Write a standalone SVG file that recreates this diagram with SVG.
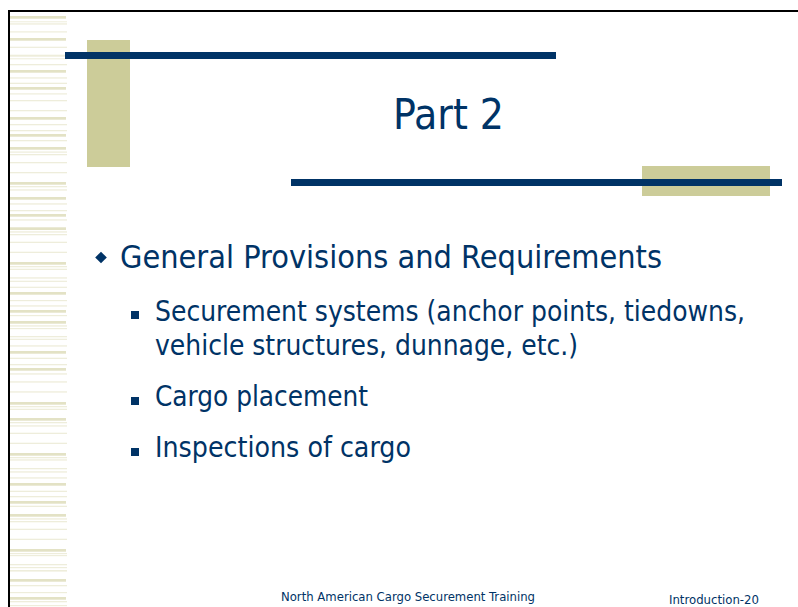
<svg xmlns="http://www.w3.org/2000/svg" width="798" height="607" viewBox="0 0 798 607">
<style>
.tk{fill:#e3e2c5}
.tn{fill:#eeeddb}
.tan{fill:#cccc99}
.bar{fill:#003366}
.t{font-family:"DejaVu Sans Condensed","DejaVu Sans",sans-serif;fill:#003366}
</style>
<rect x="0" y="0" width="798" height="607" fill="#ffffff"/>
<g id="stripes">
<rect class="tk" x="10" y="16" width="56" height="2.7"/>
<rect class="tk" x="10" y="38" width="56" height="2.7"/>
<rect class="tk" x="10" y="70" width="56" height="2.7"/>
<rect class="tk" x="10" y="87" width="56" height="2.7"/>
<rect class="tk" x="10" y="117" width="56" height="2.7"/>
<rect class="tk" x="10" y="134" width="56" height="2.7"/>
<rect class="tk" x="10" y="147" width="56" height="2.7"/>
<rect class="tk" x="10" y="182" width="56" height="2.7"/>
<rect class="tk" x="10" y="197" width="56" height="2.7"/>
<rect class="tk" x="10" y="214" width="56" height="2.7"/>
<rect class="tk" x="10" y="227.3" width="56" height="2.7"/>
<rect class="tk" x="10" y="262" width="56" height="2.7"/>
<rect class="tk" x="10" y="292" width="56" height="2.7"/>
<rect class="tk" x="10" y="310" width="56" height="2.7"/>
<rect class="tk" x="10" y="321" width="56" height="2.7"/>
<rect class="tk" x="10" y="351" width="56" height="2.7"/>
<rect class="tk" x="10" y="368" width="56" height="2.7"/>
<rect class="tk" x="10" y="402" width="56" height="2.7"/>
<rect class="tk" x="10" y="418" width="56" height="2.7"/>
<rect class="tk" x="10" y="453" width="56" height="2.7"/>
<rect class="tk" x="10" y="483" width="56" height="2.7"/>
<rect class="tk" x="10" y="501" width="56" height="2.7"/>
<rect class="tk" x="10" y="514" width="56" height="2.7"/>
<rect class="tk" x="10" y="549" width="56" height="2.7"/>
<rect class="tk" x="10" y="579" width="56" height="2.7"/>
<rect class="tk" x="10" y="597" width="56" height="2.7"/>
<rect class="tn" x="10" y="21.3" width="57" height="1"/>
<rect class="tn" x="10" y="23.3" width="57" height="1.3"/>
<rect class="tn" x="10" y="31.3" width="57" height="1.2"/>
<rect class="tn" x="10" y="46.7" width="57" height="1.2"/>
<rect class="tn" x="10" y="54.7" width="57" height="2"/>
<rect class="tn" x="10" y="58.3" width="57" height="1"/>
<rect class="tn" x="10" y="64" width="57" height="1.3"/>
<rect class="tn" x="10" y="77.3" width="57" height="1.3"/>
<rect class="tn" x="10" y="82.7" width="57" height="1.3"/>
<rect class="tn" x="10" y="93.3" width="57" height="1.2"/>
<rect class="tn" x="10" y="100" width="57" height="1.3"/>
<rect class="tn" x="10" y="110" width="57" height="1.3"/>
<rect class="tn" x="10" y="124" width="57" height="1.3"/>
<rect class="tn" x="10" y="130" width="57" height="1.3"/>
<rect class="tn" x="10" y="140" width="57" height="1.3"/>
<rect class="tn" x="10" y="151.5" width="57" height="1.2"/>
<rect class="tn" x="10" y="154" width="57" height="1.3"/>
<rect class="tn" x="10" y="162" width="57" height="1.3"/>
<rect class="tn" x="10" y="172" width="57" height="1.3"/>
<rect class="tn" x="10" y="186" width="57" height="1.3"/>
<rect class="tn" x="10" y="189.3" width="57" height="1.3"/>
<rect class="tn" x="10" y="203.3" width="57" height="1.3"/>
<rect class="tn" x="10" y="210" width="57" height="1.3"/>
<rect class="tn" x="10" y="219.3" width="57" height="1.3"/>
<rect class="tn" x="10" y="231.3" width="57" height="1.3"/>
<rect class="tn" x="10" y="234" width="57" height="1.3"/>
<rect class="tn" x="10" y="241.7" width="57" height="1.3"/>
<rect class="tn" x="10" y="251.7" width="57" height="1.3"/>
<rect class="tn" x="10" y="266" width="57" height="1.3"/>
<rect class="tn" x="10" y="268.7" width="57" height="1.3"/>
<rect class="tn" x="10" y="277.3" width="57" height="1.3"/>
<rect class="tn" x="10" y="280.7" width="57" height="1.2"/>
<rect class="tn" x="10" y="286.7" width="57" height="1.2"/>
<rect class="tn" x="10" y="300" width="57" height="1.2"/>
<rect class="tn" x="10" y="305.3" width="57" height="1.3"/>
<rect class="tn" x="10" y="315" width="57" height="1.2"/>
<rect class="tn" x="10" y="325.3" width="57" height="1.3"/>
<rect class="tn" x="10" y="328" width="57" height="1.2"/>
<rect class="tn" x="10" y="336" width="57" height="1.3"/>
<rect class="tn" x="10" y="338.7" width="57" height="1.2"/>
<rect class="tn" x="10" y="345.3" width="57" height="1.3"/>
<rect class="tn" x="10" y="357.7" width="57" height="1.3"/>
<rect class="tn" x="10" y="364" width="57" height="1.3"/>
<rect class="tn" x="10" y="373.3" width="57" height="1.3"/>
<rect class="tn" x="10" y="381.3" width="57" height="1.3"/>
<rect class="tn" x="10" y="391.3" width="57" height="1.3"/>
<rect class="tn" x="10" y="406" width="57" height="1.3"/>
<rect class="tn" x="10" y="408.7" width="57" height="1.3"/>
<rect class="tn" x="10" y="422" width="57" height="1.3"/>
<rect class="tn" x="10" y="425.3" width="57" height="1.3"/>
<rect class="tn" x="10" y="432.7" width="57" height="1.3"/>
<rect class="tn" x="10" y="442.7" width="57" height="1.3"/>
<rect class="tn" x="10" y="457" width="57" height="1.3"/>
<rect class="tn" x="10" y="459.3" width="57" height="1.3"/>
<rect class="tn" x="10" y="468" width="57" height="1.3"/>
<rect class="tn" x="10" y="471.3" width="57" height="1.3"/>
<rect class="tn" x="10" y="477.3" width="57" height="1.3"/>
<rect class="tn" x="10" y="490.7" width="57" height="1.3"/>
<rect class="tn" x="10" y="496" width="57" height="1.3"/>
<rect class="tn" x="10" y="505.7" width="57" height="1.3"/>
<rect class="tn" x="10" y="518.3" width="57" height="1.3"/>
<rect class="tn" x="10" y="521" width="57" height="1.3"/>
<rect class="tn" x="10" y="528.7" width="57" height="1.3"/>
<rect class="tn" x="10" y="538.7" width="57" height="1.3"/>
<rect class="tn" x="10" y="553" width="57" height="1.2"/>
<rect class="tn" x="10" y="555" width="57" height="1.2"/>
<rect class="tn" x="10" y="564" width="57" height="1.3"/>
<rect class="tn" x="10" y="567" width="57" height="1.2"/>
<rect class="tn" x="10" y="570" width="57" height="1.6"/>
<rect class="tn" x="10" y="585" width="57" height="1.3"/>
<rect class="tn" x="10" y="592" width="57" height="1.2"/>
<rect class="tn" x="10" y="601" width="57" height="1.3"/>
<rect class="tn" x="10" y="605" width="57" height="1.2"/>
</g>
<g id="border">
<rect x="8" y="10" width="790" height="2" fill="#000000"/>
<rect x="8" y="10" width="2" height="597" fill="#000000"/>
</g>
<g id="decor">
<rect class="tan" x="87" y="40" width="43" height="127"/>
<rect class="bar" x="65" y="52" width="491" height="7"/>
<rect class="tan" x="642" y="166" width="128" height="30"/>
<rect class="bar" x="291" y="179" width="491" height="7"/>
</g>
<g id="title">
<text class="t" x="393" y="129" font-size="42.7" textLength="111" lengthAdjust="spacingAndGlyphs">Part 2</text>
</g>
<g id="body">
<path d="M101 251.7 L106.8 257.5 L101 263.3 L95.2 257.5 Z" fill="#003366"/>
<text class="t" x="120" y="268" font-size="32" textLength="542" lengthAdjust="spacingAndGlyphs">General Provisions and Requirements</text>
<rect x="131" y="311" width="8" height="8" fill="#003366"/>
<text class="t" x="155" y="320.7" font-size="28" textLength="590" lengthAdjust="spacingAndGlyphs">Securement systems (anchor points, tiedowns,</text>
<text class="t" x="155" y="355" font-size="28" textLength="423" lengthAdjust="spacingAndGlyphs">vehicle structures, dunnage, etc.)</text>
<rect x="131" y="397" width="8" height="8" fill="#003366"/>
<text class="t" x="155" y="405.5" font-size="28" textLength="213" lengthAdjust="spacingAndGlyphs">Cargo placement</text>
<rect x="131" y="448" width="8" height="8" fill="#003366"/>
<text class="t" x="155" y="456.7" font-size="28" textLength="256" lengthAdjust="spacingAndGlyphs">Inspections of cargo</text>
</g>
<g id="footer">
<text class="t" x="281" y="601" font-size="12" textLength="254" lengthAdjust="spacingAndGlyphs">North American Cargo Securement Training</text>
<text class="t" x="669" y="604" font-size="12" textLength="90" lengthAdjust="spacingAndGlyphs">Introduction-20</text>
</g>
</svg>
